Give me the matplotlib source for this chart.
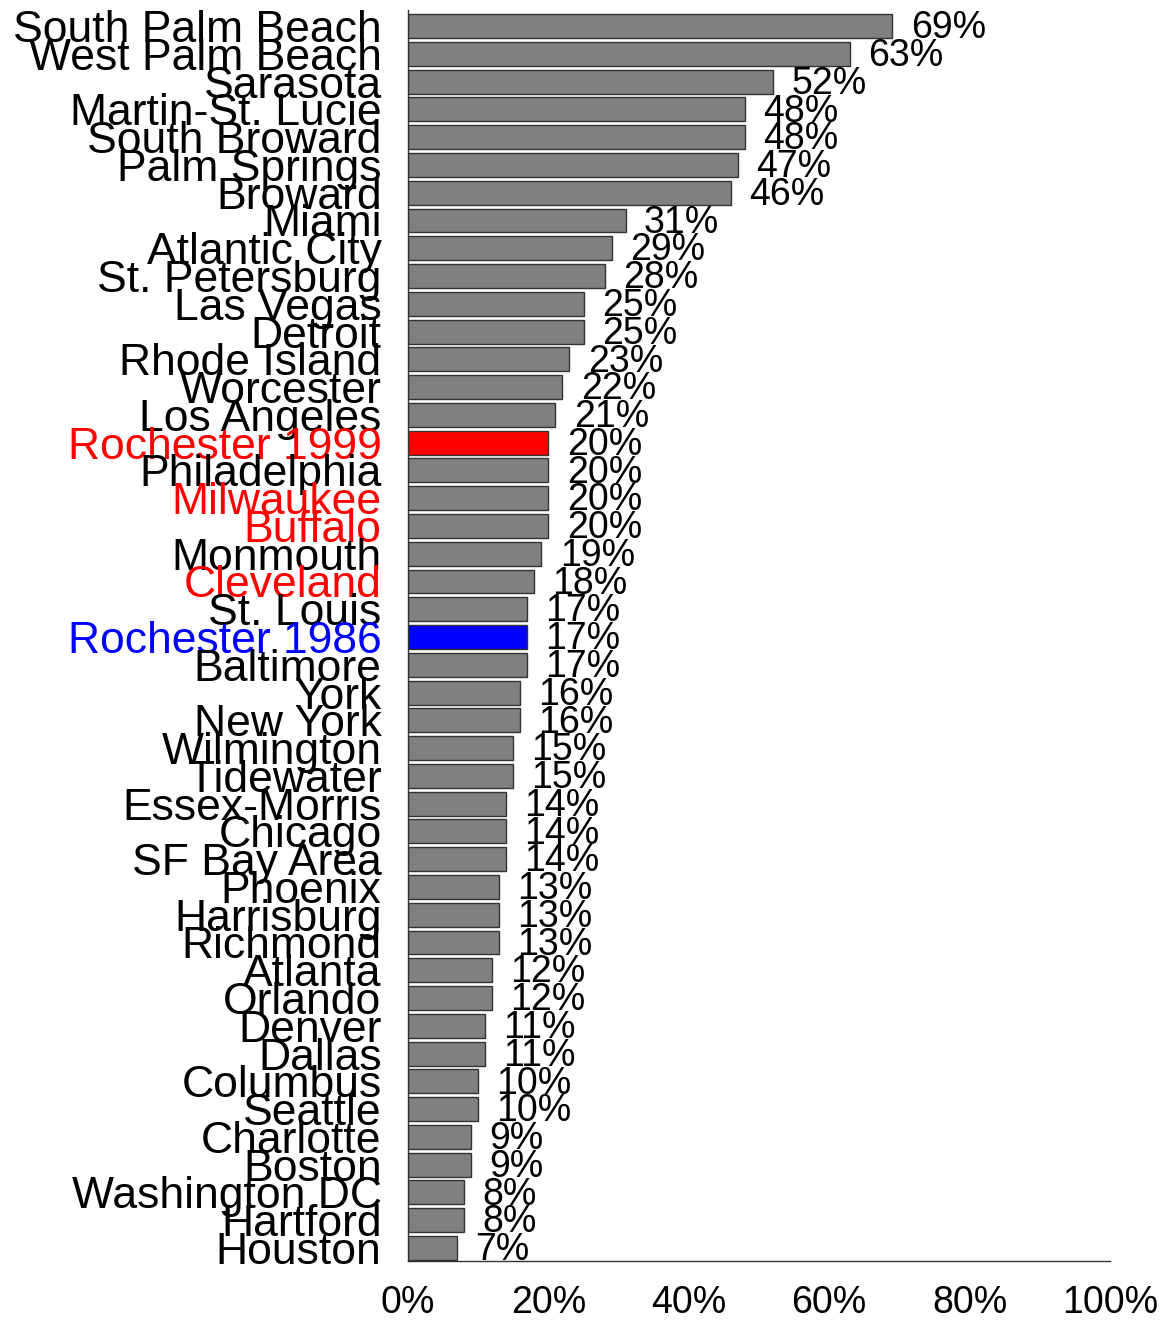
import matplotlib
matplotlib.use("Agg")
import matplotlib.pyplot as plt
import numpy as np

plt.rcParams["font.family"] = ["Liberation Sans", "DejaVu Sans"]

cities = [
    "South Palm Beach", "West Palm Beach", "Sarasota", "Martin-St. Lucie",
    "South Broward", "Palm Springs", "Broward", "Miami", "Atlantic City",
    "St. Petersburg", "Las Vegas", "Detroit", "Rhode Island", "Worcester",
    "Los Angeles", "Rochester 1999", "Philadelphia", "Milwaukee", "Buffalo",
    "Monmouth", "Cleveland", "St. Louis", "Rochester 1986", "Baltimore",
    "York", "New York", "Wilmington", "Tidewater", "Essex-Morris", "Chicago",
    "SF Bay Area", "Phoenix", "Harrisburg", "Richmond", "Atlanta", "Orlando",
    "Denver", "Dallas", "Columbus", "Seattle", "Charlotte", "Boston",
    "Washington DC", "Hartford", "Houston",
]
pct = [69, 63, 52, 48, 48, 47, 46, 31, 29, 28, 25, 25, 23, 22, 21, 20, 20, 20,
       20, 19, 18, 17, 17, 17, 16, 16, 15, 15, 14, 14, 14, 13, 13, 13, 12, 12,
       11, 11, 10, 10, 9, 9, 8, 8, 7]

bar_colors = {"Rochester 1999": "#ff0000", "Rochester 1986": "#0000ff"}
label_colors = {"Rochester 1999": "#ff0000", "Milwaukee": "#ff0000",
                "Buffalo": "#ff0000", "Cleveland": "#ff0000",
                "Rochester 1986": "#0000ff"}

fig = plt.figure(figsize=(11.66, 13.21), dpi=100)
ax = fig.add_axes([408 / 1166, 1 - 1261 / 1321, 702 / 1166, 1251 / 1321])

y = np.arange(len(cities))
colors = [bar_colors.get(c, "#808080") for c in cities]
bars = ax.barh(y, pct, height=0.86, color=colors, edgecolor="#333333", linewidth=1)

for b, v in zip(bars, pct):
    ax.text(v + 2.6, b.get_y() + b.get_height() / 2 + 0.08, f"{v}%",
            ha="left", va="center", fontsize=27)

ax.set_xlim(0, 100)
ax.set_ylim(44.47, -0.58)
ax.set_yticks(y)
ax.set_yticklabels(cities, fontsize=32)
for lbl, c in zip(ax.get_yticklabels(), cities):
    lbl.set_color(label_colors.get(c, "black"))
ax.set_xticks([0, 20, 40, 60, 80, 100])
ax.set_xticklabels([f"{t}%" for t in [0, 20, 40, 60, 80, 100]], fontsize=27)
ax.tick_params(axis="both", length=0)
ax.tick_params(axis="x", pad=17)
ax.tick_params(axis="y", pad=19)
for s in ["top", "right"]:
    ax.spines[s].set_visible(False)
for s in ["left", "bottom"]:
    ax.spines[s].set_color("#333333")
    ax.spines[s].set_linewidth(1)

fig.savefig("out.png", dpi=100)
